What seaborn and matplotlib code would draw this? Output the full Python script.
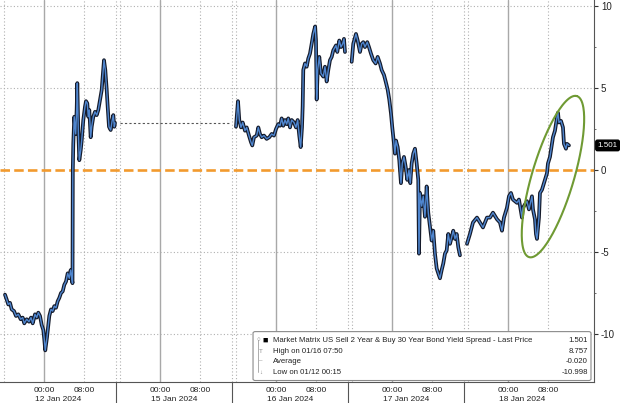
"""
Bloomberg-style intraday chart: US 2s/30s bond yield spread (sell 2y, buy 30y)
"""

import numpy as np
import pandas as pd
import matplotlib.pyplot as plt
import matplotlib.transforms as mtransforms
from matplotlib.patches import FancyBboxPatch
import seaborn as sns

sns.set_style("white")
plt.rcParams['font.family'] = ['Liberation Sans', 'DejaVu Sans']

# ---- data (hours relative to that day's 00:00, spread value) ----
day_labels = ['12 Jan 2024', '15 Jan 2024', '16 Jan 2024', '17 Jan 2024', '18 Jan 2024']

jan12_hours = [-7.8, -7.46, -7.14, -6.8, -6.46, -6.0, -5.6, -5.14, -4.66, -4.26, -3.94, -3.46,
               -3.0, -2.6, -2.26, -1.8, -1.46, -1.14, -0.8, -0.46, -0.14, 0.05, 0.25, 0.6,
               1.06, 1.4, 1.74, 2.06, 2.4, 2.74, 3.06, 3.4, 3.74, 4.06, 4.4, 4.74, 5.06, 5.34,
               5.6, 5.7, 5.76, 5.86, 6.06, 6.34, 6.54, 6.66, 6.86, 7.06, 7.34, 7.54, 7.86, 8.2,
               8.4, 8.66, 8.86, 9.06, 9.34, 9.54, 9.86, 10.2, 10.54, 10.86, 11.2, 11.54, 11.74,
               12.0, 12.26, 12.54, 12.74, 13.0, 13.34, 13.6, 13.86, 14.06, 14.2]
jan12_values = [-7.6, -7.9, -8.2, -8.1, -8.5, -8.6, -8.9, -8.8, -9.1, -9.0, -9.35, -9.1,
                -9.25, -9.0, -9.35, -8.8, -9.0, -8.7, -8.9, -9.45, -9.75, -10.3, -10.998, -10.2,
                -8.9, -8.5, -8.6, -8.3, -8.4, -8.0, -7.8, -7.5, -7.4, -7.0, -6.8, -6.3, -6.6,
                -6.1, -6.7, -6.9, 0.0, 1.6, 3.25, 2.2, 3.7, 5.3, 2.4, 0.6, 1.2, 1.8, 3.05, 3.86,
                4.2, 4.07, 3.25, 3.66, 2.0, 2.64, 3.25, 3.55, 3.35, 3.66, 4.27, 4.88, 5.7,
                6.7, 6.1, 4.9, 3.86, 2.64, 2.44, 2.95, 3.35, 2.64, 2.87]

jan16_hours = [-8.0, -7.6, -7.34, -7.0, -6.66, -6.2, -5.86, -5.4, -5.0, -4.74, -4.4, -3.86,
               -3.54, -3.2, -2.86, -2.4, -1.86, -1.34, -0.86, -0.4, 0.0, 0.46, 0.8, 1.14, 1.46,
               1.8, 2.14, 2.46, 2.8, 3.14, 3.6, 4.0, 4.34, 4.66, 4.94, 5.2, 5.34, 5.46, 5.8,
               6.14, 6.46, 6.8, 7.14, 7.46, 7.83, 8.0, 8.14, 8.34, 8.66, 9.0, 9.46, 9.8, 10.14,
               10.46, 10.8, 11.14, 11.46, 12.0, 12.26, 12.66, 13.0, 13.34, 13.6, 13.8]
jan16_values = [2.64, 4.2, 3.05, 2.6, 2.9, 2.4, 2.6, 2.1, 1.7, 1.5, 2.0, 2.1,
                2.6, 2.2, 2.0, 2.1, 1.9, 2.0, 2.2, 2.1, 2.5, 2.8, 2.7, 3.15, 2.7,
                3.05, 2.8, 3.15, 2.6, 3.05, 2.9, 2.6, 3.05, 2.1, 1.4, 2.6, 3.9, 6.1, 6.5,
                6.3, 6.8, 7.1, 7.7, 8.3, 8.757, 7.9, 4.3, 6.1, 6.9, 5.9, 5.7, 6.3, 5.4,
                6.1, 6.7, 6.9, 7.3, 7.6, 7.2, 7.9, 7.5, 7.7, 8.0, 7.2]

jan17_hours = [-8.06, -7.74, -7.2, -6.86, -6.4, -6.06, -5.74, -5.4, -4.94, -4.6, -4.2, -3.74,
               -3.26, -2.86, -2.4, -2.06, -1.6, -1.26, -0.86, -0.54, -0.2, 0.06, 0.34, 0.6, 0.8,
               1.14, 1.46, 1.8, 2.06, 2.4, 2.74, 3.06, 3.4, 3.66, 3.94, 4.26, 4.6, 4.94, 5.26,
               5.4, 5.6, 5.94, 6.26, 6.6, 6.94, 7.26, 7.6, 7.94, 8.26, 8.6, 8.94, 9.26, 9.6,
               9.94, 10.26, 10.6, 10.94, 11.26, 11.6, 11.94, 12.26, 12.6, 12.94, 13.26, 13.6]
jan17_values = [6.6, 7.7, 8.3, 7.9, 7.2, 7.7, 7.8, 7.5, 7.8, 7.5, 7.1, 6.7,
                6.5, 6.9, 6.5, 6.1, 5.8, 5.4, 4.9, 4.3, 3.45, 2.6, 1.8, 1.0, 1.8,
                1.4, 0.6, -0.8, 0.4, 0.8, 0.2, -0.6, 0.0, -0.8, 0.4, 1.0, 1.3, 0.4, -0.6,
                -5.1, -1.4, -2.2, -1.6, -2.85, -1.0, -2.6, -3.45, -4.3, -3.7, -5.1, -6.0, -6.3,
                -6.6, -6.1, -5.7, -5.1, -4.9, -3.9, -4.5, -4.1, -3.7, -4.2, -3.9, -4.7, -5.2]

jan18_hours = [-8.2, -7.6, -7.0, -6.2, -5.6, -5.0, -4.2, -3.6, -3.0, -2.2, -1.6, -1.2, -0.8,
               -0.2, 0.2, 0.6, 1.0, 1.8, 2.2, 2.8, 3.0, 3.8, 4.2, 4.8, 5.0, 5.4, 5.6, 5.8,
               6.2, 6.4, 6.8, 7.0, 7.4, 7.8, 8.0, 8.4, 8.8, 9.0, 9.4, 9.8, 10.0, 10.2, 10.6,
               11.0, 11.2, 11.6, 11.8, 12.2]
jan18_values = [-4.5, -3.9, -3.2, -2.9, -3.2, -3.5, -2.9, -2.9, -2.6, -3.0, -3.2, -3.7, -2.9,
                -2.3, -1.6, -1.4, -1.8, -2.0, -1.8, -2.9, -2.3, -1.9, -2.4, -1.6, -2.4, -3.0,
                -3.9, -4.2, -2.9, -1.4, -1.2, -1.0, -0.6, -0.2, 0.4, 0.8, 1.6, 2.0, 2.4, 3.2,
                3.5, 2.9, 3.0, 2.6, 1.6, 1.3, 1.6, 1.501]

legend_name = 'Market Matrix US Sell 2 Year & Buy 30 Year Bond Yield Spread - Last Price'
last_price = 1.501
high_value, high_label = 8.757, 'High on 01/16 07:50'
avg_value = -0.020
low_value, low_label = -10.998, 'Low on 01/12 00:15'

# session layout: each day block is 23.2 h wide, midnight sits 8.8 h into the block
BLOCK = 23.2
MID = 8.8


def pos(block, hours):
    return block * BLOCK + MID + np.asarray(hours, dtype=float)


frames = []
for blk, hrs, vals in [(0, jan12_hours, jan12_values), (2, jan16_hours, jan16_values),
                       (3, jan17_hours, jan17_values), (4, jan18_hours, jan18_values)]:
    frames.append(pd.DataFrame({'pos': pos(blk, hrs), 'value': vals, 'session': blk}))
df = pd.concat(frames, ignore_index=True)

# ---- figure ----
fig = plt.figure(figsize=(6.2, 4.03), dpi=100)
ax = fig.add_axes([0, 0.052, 0.958, 0.948])
ax.set_xlim(0, 118.8)
ax.set_ylim(-12.93, 10.37)

# grid
for y in [10, 5, -5, -10]:
    ax.axhline(y, color='#b0b0b0', lw=0.8, ls=(0, (1, 2)), zorder=0)
for k in range(5):
    ax.axvline(pos(k, 0), color='#a8a8a8', lw=1.0, zorder=0)
    ax.axvline(pos(k, 8), color='#b0b0b0', lw=0.8, ls=(0, (1, 2)), zorder=0)
    ax.axvline(pos(k, -8), color='#b0b0b0', lw=0.8, ls=(0, (1, 2)), zorder=0)
    if k > 0:
        ax.axvline(k * BLOCK, color='#b0b0b0', lw=0.8, ls=(0, (1, 2)), zorder=0)

# zero line
ax.axhline(0, color='#f29a2e', lw=1.9, dashes=(3.6, 1.6), zorder=1)

# holiday gap connector at the last 12 Jan price
ax.plot([pos(1, -8), 2 * BLOCK - 0.4], [jan12_values[-1]] * 2, color='#555555',
        lw=0.8, ls=(0, (2, 2)), zorder=2)

# the spread: dark outline with blue core
sns.lineplot(data=df, x='pos', y='value', units='session', estimator=None, color='#151b2b',
             lw=2.7, ax=ax, zorder=3, sort=False)
sns.lineplot(data=df, x='pos', y='value', units='session', estimator=None, color='#4f86cf',
             lw=1.0, ax=ax, zorder=4, sort=False)
ax.set_xlabel('')
ax.set_ylabel('')

# green highlight ellipse (drawn in pixel space so it keeps its shape)
cx, cy = pos(4, 9.0), -0.4
a_px, b_px, theta = 84, 21, np.deg2rad(73.5)
t = np.linspace(0, 2 * np.pi, 200)
off = np.column_stack([a_px * np.cos(t) * np.cos(theta) - b_px * np.sin(t) * np.sin(theta),
                       a_px * np.cos(t) * np.sin(theta) + b_px * np.sin(t) * np.cos(theta)])
center = ax.transData.transform((cx, cy))
ell = ax.transData.inverted().transform(center + off)
ax.plot(ell[:, 0], ell[:, 1], color='#6f9a33', lw=1.5, zorder=5)

# axes styling
for s in ['left', 'top']:
    ax.spines[s].set_visible(False)
for s in ['right', 'bottom']:
    ax.spines[s].set_color('#555555')
    ax.spines[s].set_linewidth(0.8)

ax.yaxis.tick_right()
ax.set_yticks([10, 5, 0, -5, -10])
ax.set_yticklabels(['10', '5', '0', '-5', '-10'])
ax.set_yticks([7.5, 2.5, -2.5, -7.5], minor=True)
ax.tick_params(axis='y', which='major', length=3, width=0.8, color='#333333',
               labelsize=7, pad=2, labelcolor='#222222')
ax.tick_params(axis='y', which='minor', length=1.5, width=0.6, color='#555555')

xt, xl = [], []
for k in range(5):
    xt += [pos(k, 0), pos(k, 8)]
    xl += ['00:00', '08:00']
ax.set_xticks(xt)
ax.set_xticklabels(xl)
ax.set_xticks([pos(k, h) for k in range(5) for h in (-8, -4, 4, 12)], minor=True)
ax.tick_params(axis='x', which='major', length=2, width=0.6, color='#555555',
               labelsize=6, pad=1.5, labelcolor='#222222')
ax.tick_params(axis='x', which='minor', length=1.5, width=0.6, color='#555555')

btrans = mtransforms.blended_transform_factory(ax.transData, ax.transAxes)
for k, lab in enumerate(day_labels):
    ax.text(k * BLOCK + BLOCK / 2, -0.045, lab, transform=btrans, ha='center', va='center',
            fontsize=6, color='#222222')
    if k > 0:
        ax.plot([k * BLOCK, k * BLOCK], [0, -0.06], transform=btrans, color='#555555',
                lw=0.8, clip_on=False)

# last price tag
rtrans = mtransforms.blended_transform_factory(ax.transAxes, ax.transData)
ax.text(1.006, last_price, f'{last_price:.3f}', transform=rtrans, ha='left', va='center',
        fontsize=5.8, color='white',
        bbox=dict(boxstyle='round,pad=0.22', fc='black', ec='black'))

# legend box
box = FancyBboxPatch((0.426, 0.004), 0.569, 0.128, boxstyle='round,pad=0,rounding_size=0.004',
                     transform=ax.transAxes, fc='white', ec='#8a8a8a', lw=0.8, zorder=10)
ax.add_patch(box)
rows_y = [0.110, 0.081, 0.055, 0.026]
row_text = [legend_name, high_label, 'Average', low_label]
row_vals = [last_price, high_value, avg_value, low_value]
for y, txt, v in zip(rows_y, row_text, row_vals):
    ax.text(0.4596, y, txt, transform=ax.transAxes, ha='left', va='center', fontsize=5.6,
            color='#222222', zorder=11)
    ax.text(0.9899, y, f'{v:.3f}', transform=ax.transAxes, ha='right', va='center',
            fontsize=5.6, color='#222222', zorder=11)
ax.text(0.4465, rows_y[0], '■', transform=ax.transAxes, ha='center', va='center',
        fontsize=6.5, color='black', zorder=11)
ax.plot([0.4345, 0.4345], [rows_y[0], rows_y[3]], transform=ax.transAxes, color='#a0a0a0',
        lw=0.6, zorder=11)
for y, sym in zip(rows_y, ['○', 'T', '–', '↓']):
    ax.text(0.4395 if sym != '○' else 0.4345, y, sym, transform=ax.transAxes, ha='center',
            va='center', fontsize=4.5, color='#8a8a8a', zorder=12)

fig.savefig('out.png', dpi=100)
